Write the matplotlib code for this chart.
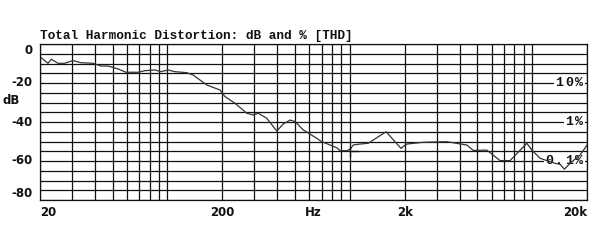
import matplotlib
matplotlib.use("Agg")
import matplotlib.pyplot as plt
import matplotlib.transforms as mtransforms
from matplotlib.patches import Rectangle

# THD curve (frequency in Hz, level in dB)
freq_hz = [20, 22.1, 23.1, 25.1, 27.3, 30.3, 33.6, 39.1, 43.2, 47.2, 53.6, 59.3,
           69.0, 75.0, 85.1, 92.2, 100.7, 109.7, 127.6, 138.2, 164.3, 194.2, 206.9,
           234.9, 272.3, 296, 315.3, 350.5, 397.7, 432.3, 470.4, 501, 556.4, 605.6,
           659, 702, 779.8, 848.5, 884.5, 962.6, 1003, 1046, 1114, 1265, 1347, 1582,
           1735, 1910, 2054, 2532, 3404, 4384, 4765, 5643, 6672, 7573, 9353, 9965,
           11060, 12040, 13370, 14240, 15030, 16160, 18330, 19950]
thd_db = [-6.5, -9.9, -7.8, -9.9, -9.9, -8.5, -9.6, -9.9, -11.3, -11.3, -12.8, -14.5,
          -14.5, -13.7, -13.3, -14.2, -13.3, -14.2, -14.7, -15.9, -21.0, -23.6, -27.0,
          -30.4, -35.5, -36.4, -35.5, -38.1, -44.6, -41.0, -39.0, -39.8, -44.1, -46.2,
          -48.4, -50.1, -51.8, -53.2, -54.7, -54.7, -54.0, -51.8, -51.4, -50.9, -49.2, -45.0,
          -49.2, -53.5, -51.3, -50.4, -50.1, -51.8, -54.6, -54.4, -59.8, -59.8, -50.9, -54.4,
          -58.6, -59.8, -61.2, -61.7, -64.2, -61.2, -56.9, -52.0]

# small marker near 1 kHz
marker_f = [1000, 1000]
marker_db = [-53.0, -57.5]
dash_f = [1030, 1110]
dash_db = [-54.7, -54.7]

# axes definitions
y_ticks = [0, -20, -40, -60, -80]
y_tick_labels = ["0", "-20", "-40", "-60", "-80"]
x_grid = [20, 30, 40, 50, 60, 70, 80, 90, 100, 200, 300, 400, 500, 600, 700, 800, 900,
          1000, 2000, 3000, 4000, 5000, 6000, 7000, 8000, 9000, 10000, 20000]
y_grid = list(range(-80, 1, 5))
x_labels = ["20", "200", "Hz", "2k", "20k"]
x_label_pos = [20, 200, 630, 2000, 20000]
pct_labels = ["10%", "1%", "0.1%"]
pct_db = [-20, -40, -60]

fig = plt.figure(figsize=(6, 2.4), dpi=100)
ax = fig.add_axes([40/600, 40/240, 547/600, 156/240])
ax.set_xscale("log")
ax.set_xlim(20, 20000)
ax.set_ylim(-80, 0)

for f in x_grid:
    ax.axvline(f, color="#111111", lw=0.9, zorder=1)
for d in y_grid:
    ax.axhline(d, color="#111111", lw=0.9, zorder=1)

ax.plot(freq_hz, thd_db, color="#333333", lw=0.9, zorder=4)
ax.plot(marker_f, marker_db, color="#111111", lw=1.0, zorder=4)
ax.plot(dash_f, dash_db, color="#111111", lw=1.0, zorder=4)

for s in ax.spines.values():
    s.set_color("#111111")
    s.set_linewidth(0.9)
    s.set_zorder(5)

ax.set_xticks([])
ax.set_xticks([], minor=True)
ax.set_yticks([])
ax.set_yticks([], minor=True)

ylab_font = dict(fontfamily="DejaVu Sans", fontweight="bold", fontsize=8.5, color="#111111")
tr_y = mtransforms.blended_transform_factory(ax.transAxes, ax.transData)
for v, lab in zip(y_ticks, y_tick_labels):
    va = "center"
    if v == 0:
        va = "top"
    elif v == -80:
        va = "bottom"
    ax.text(-0.013, v, lab, transform=tr_y, ha="right", va=va, **ylab_font)
ax.text(-0.069, -29, "dB", transform=tr_y, ha="left", va="center", **ylab_font)

tr_x = mtransforms.blended_transform_factory(ax.transData, ax.transAxes)
for f, lab in zip(x_label_pos, x_labels):
    ha = "center"
    if f == 20:
        ha = "left"
    elif f == 20000:
        ha = "right"
    ax.text(f, -0.04, lab, transform=tr_x, ha=ha, va="top", **ylab_font)

# percent labels: spaced characters on a white patch hiding the gridline
pitch = 10 / 547.0          # character pitch in axes fraction
last_center = (579 - 40) / 547.0
for lab, d in zip(pct_labels, pct_db):
    n = len(lab)
    x0 = last_center - (n - 1) * pitch - pitch * 0.55
    ax.add_patch(Rectangle((x0, d - 2.4), 0.997 - x0, 4.8, transform=tr_y,
                           facecolor="white", edgecolor="none", zorder=2))
    for i, ch in enumerate(lab):
        ax.text(last_center - (n - 1 - i) * pitch, d, ch, transform=tr_y,
                ha="center", va="center", fontfamily="Liberation Mono",
                fontweight="bold", fontsize=9.5, color="#111111", zorder=3)

fig.text(40/600, 1 - 36/240, "Total Harmonic Distortion: dB and % [THD]",
         ha="left", va="center", fontfamily="Liberation Mono", fontweight="bold",
         fontsize=9.2, color="#111111")

fig.savefig("out.png", dpi=100, facecolor="white")
